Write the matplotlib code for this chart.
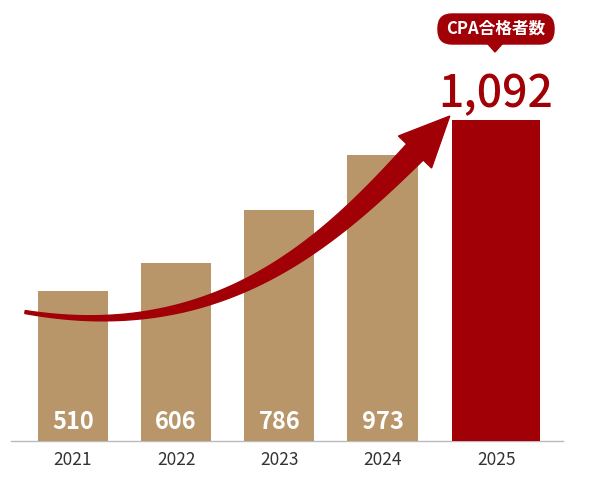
import numpy as np
import matplotlib.pyplot as plt
from matplotlib.patches import Polygon, FancyBboxPatch

plt.rcParams['font.family'] = ['Noto Sans CJK JP', 'DejaVu Sans']

years = ['2021', '2022', '2023', '2024', '2025']
values = [510, 606, 786, 973, 1092]
xpos = [0, 1, 2, 3, 4.1]
widths = [0.68, 0.68, 0.68, 0.68, 0.85]
colors = ['#B8966A'] * 4 + ['#A10006']
red = '#A10006'

fig = plt.figure(figsize=(6, 4.78), dpi=100)
ax = fig.add_axes([0, 0.0774, 1, 0.753])
ax.bar(xpos, values, width=widths, color=colors, zorder=2)
ax.set_xlim(-0.707, 5.107)
ax.set_ylim(0, 1225)
ax.axis('off')
for x, v in zip(xpos[:4], values[:4]):
    ax.text(x, 25, str(v), color='white', ha='center', va='bottom',
            fontsize=17, fontweight='bold', zorder=3)
for x, y in zip(xpos, years):
    ax.text(x, -35, y, color='#333333', ha='center', va='top', fontsize=12.5)
ax.plot([-0.6, 4.75], [0, 0], color='#bbbbbb', lw=1, zorder=1, clip_on=False)
ax.text(xpos[4], values[4] + 10, f'{values[4]:,}', color=red, ha='center',
        va='bottom', fontsize=32, fontweight='medium')

# overlay in pixel coords for arrow and badge
ov = fig.add_axes([0, 0, 1, 1])
ov.set_xlim(0, 600)
ov.set_ylim(478, 0)
ov.axis('off')
ov.patch.set_alpha(0)

t = np.linspace(0, 1, 200)
P = np.array([[25, 312], [220, 345], [330, 240], [415, 152]])
B = ((1 - t)**3)[:, None] * P[0] + (3 * (1 - t)**2 * t)[:, None] * P[1] \
    + (3 * (1 - t) * t**2)[:, None] * P[2] + (t**3)[:, None] * P[3]
d = np.gradient(B, axis=0)
d /= np.linalg.norm(d, axis=1)[:, None]
n = np.stack([-d[:, 1], d[:, 0]], axis=1)
w = 1.5 + 10 * t**1.1
upper = B + n * w[:, None]
lower = B - n * w[:, None]
end, dn, tn = B[-1], n[-1], d[-1]
head = [end + dn * 23, end + tn * 50, end - dn * 23]
pts = np.vstack([upper, head, lower[::-1]])
ov.add_patch(Polygon(pts, closed=True, color=red, zorder=5))

ov.add_patch(FancyBboxPatch((438, 14), 116, 30, boxstyle='round,pad=0,rounding_size=14',
                            color=red, zorder=5))
ov.add_patch(Polygon([[487, 43], [503, 43], [495, 52]], color=red, zorder=5))
ov.text(496, 29, 'CPA合格者数', color='white', ha='center', va='center',
        fontsize=12, fontweight='bold', zorder=6)

fig.savefig('out.png', dpi=100)
